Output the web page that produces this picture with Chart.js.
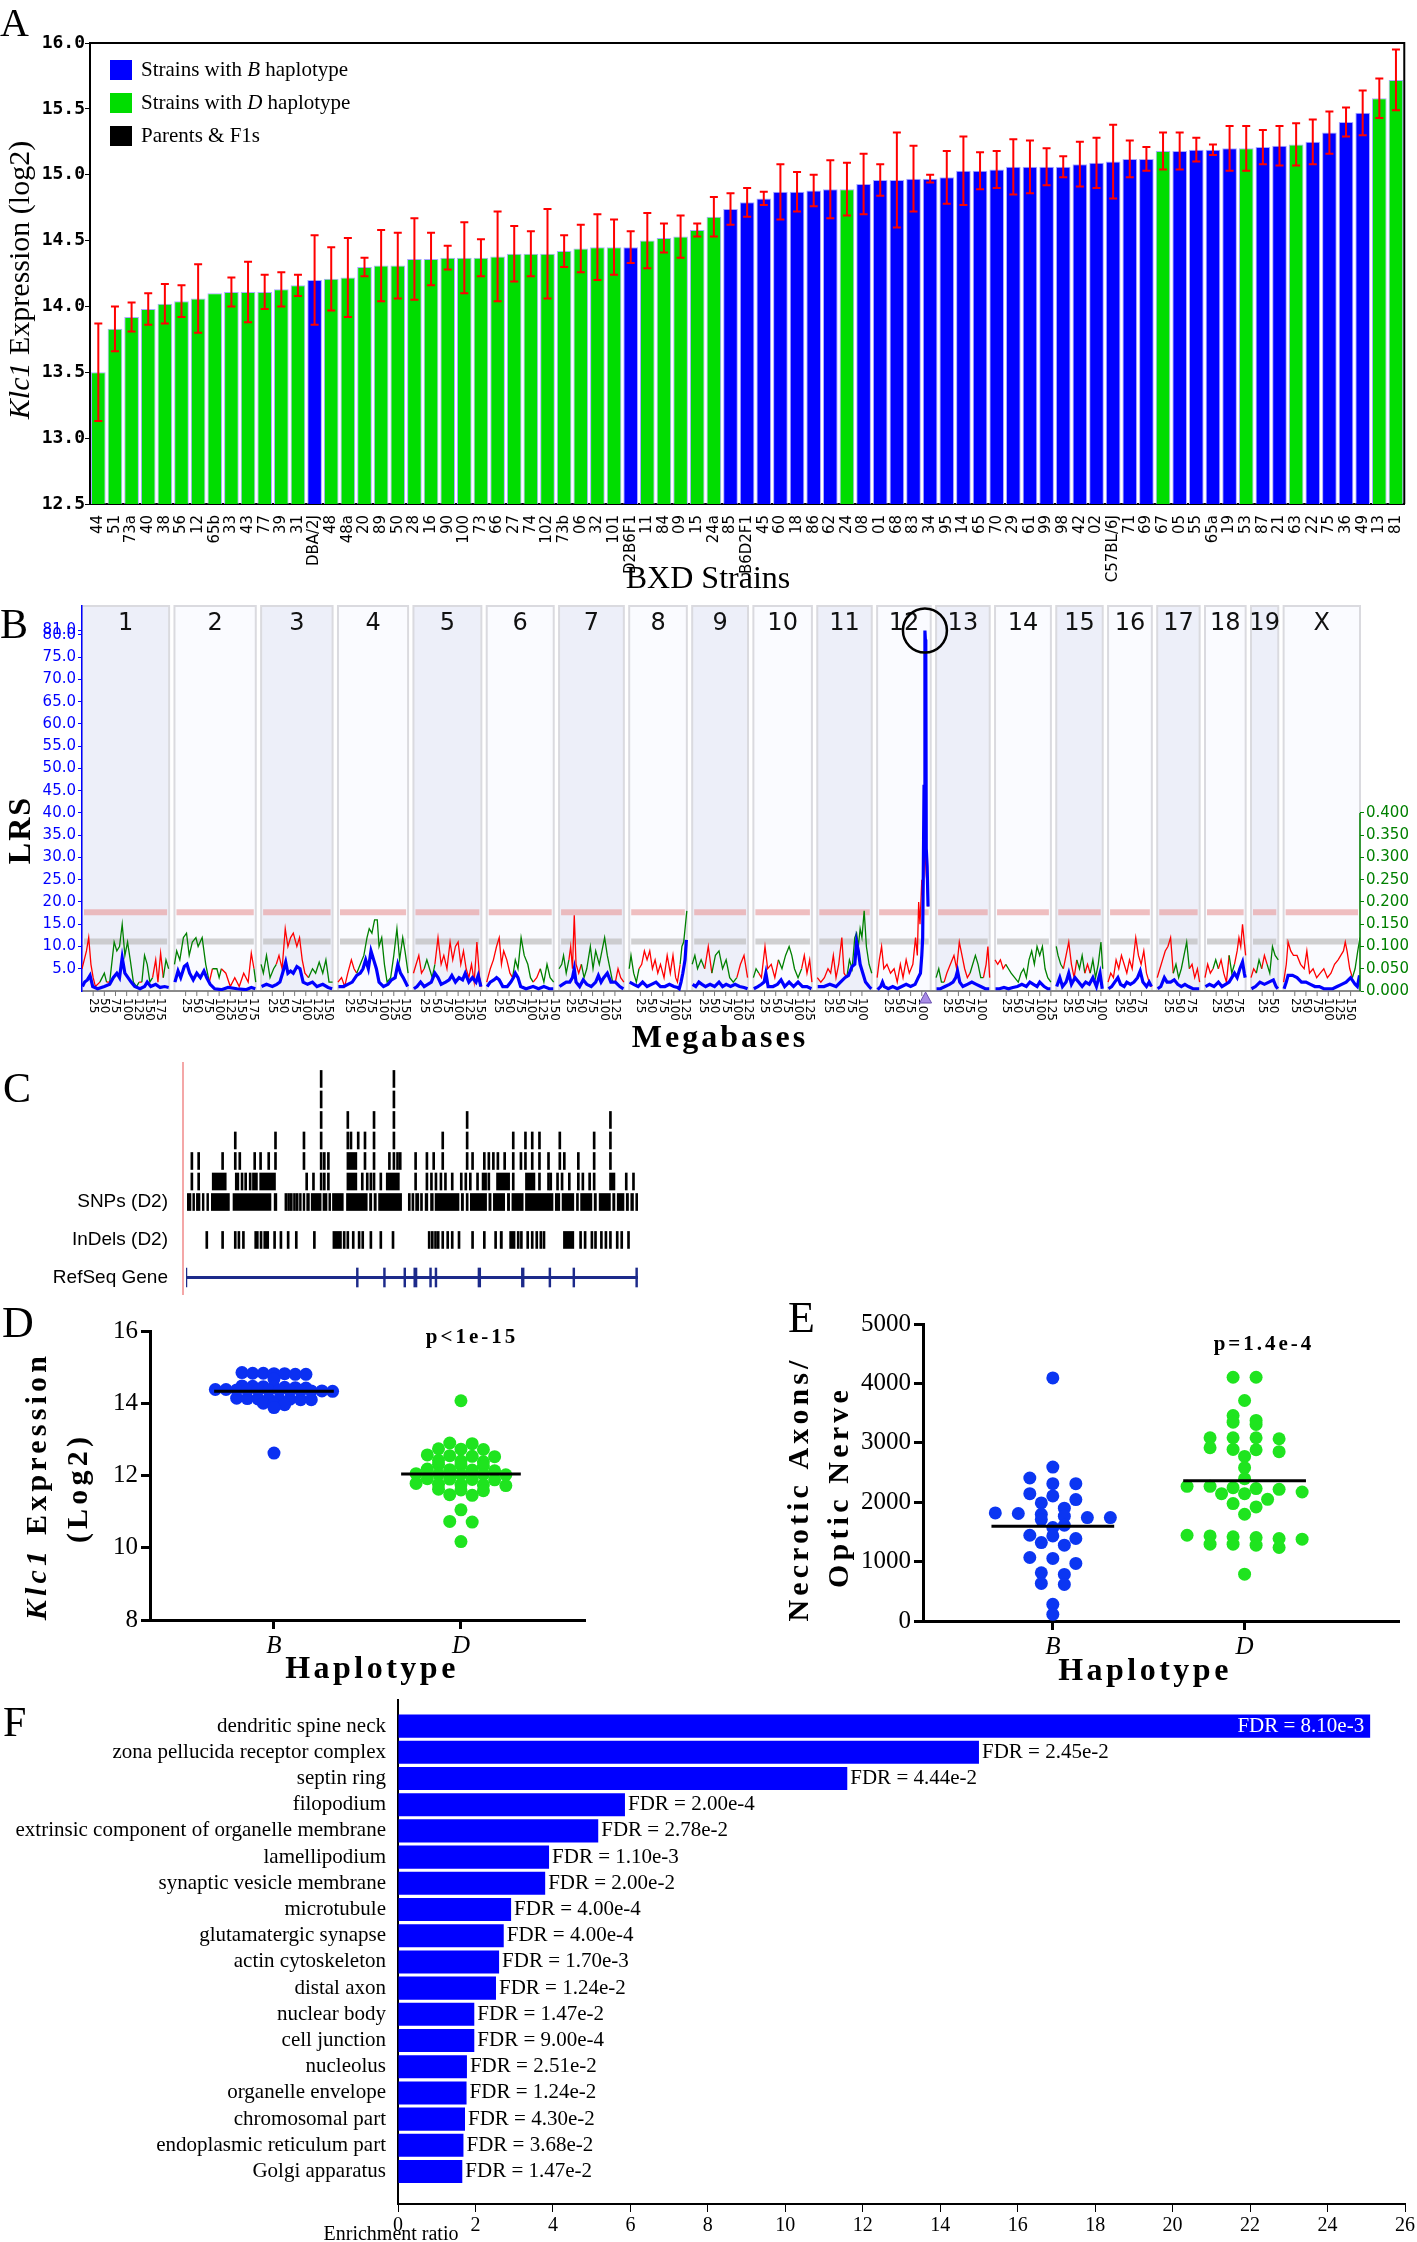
<!DOCTYPE html>
<html>
<head>
<meta charset="utf-8">
<title>Klc1 figure</title>
<script src="https://cdn.jsdelivr.net/npm/chart.js@4.4.1/dist/chart.umd.min.js"></script>
<style>
  body { margin: 0; background: #fff; }
  #fig { position: relative; width: 1417px; height: 2242px; overflow: hidden; background: #fff; }
  #fig canvas { position: absolute; }
</style>
</head>
<body>
<div id="fig">
  <canvas id="panelA" width="1417" height="600" style="left:0;top:0"></canvas>
  <canvas id="panelB" width="1417" height="460" style="left:0;top:595px"></canvas>
  <canvas id="panelC" width="720" height="255" style="left:0;top:1050px"></canvas>
  <canvas id="panelD" width="640" height="400" style="left:0;top:1295px"></canvas>
  <canvas id="panelE" width="657" height="400" style="left:760px;top:1295px"></canvas>
  <canvas id="panelF" width="1417" height="552" style="left:0;top:1690px"></canvas>
</div>
<script>
var BLUE = '#0000ff', GREEN = '#00dd00';
var SERIF = '"Liberation Serif", "Times New Roman", serif';
var SANS = '"DejaVu Sans", Verdana, sans-serif';
var ARIAL = '"Liberation Sans", Arial, sans-serif';

// ---------- A: Klc1 expression per BXD strain
var strains = ['44','51','73a','40','38','56','12','65b','33','43',
  '77','39','31','DBA/2J','48','48a','20','89','50','28',
  '16','90','100','73','66','27','74','102','73b','06',
  '32','101','D2B6F1','11','84','09','15','24a','85','B6D2F1',
  '45','60','18','86','62','24','08','01','68','83',
  '34','95','14','65','70','29','61','99','98','42',
  '02','C57BL/6J','71','69','67','05','55','65a','19','53',
  '87','21','63','22','75','36','49','13','81'];
var expression = [13.50,13.83,13.92,13.98,14.02,14.04,14.06,14.10,14.11,14.11,
  14.11,14.13,14.16,14.20,14.21,14.22,14.30,14.31,14.31,14.36,
  14.36,14.37,14.37,14.37,14.38,14.40,14.40,14.40,14.42,14.44,
  14.45,14.45,14.45,14.50,14.52,14.53,14.58,14.68,14.74,14.79,
  14.82,14.87,14.87,14.88,14.89,14.89,14.93,14.96,14.96,14.97,
  14.97,14.98,15.03,15.03,15.04,15.06,15.06,15.06,15.06,15.08,
  15.09,15.10,15.12,15.12,15.18,15.18,15.19,15.19,15.20,15.20,
  15.21,15.22,15.23,15.25,15.32,15.40,15.47,15.58,15.72];
var expressionSE = [0.37,0.17,0.11,0.12,0.15,0.12,0.26,0,0.11,0.23,
  0.13,0.13,0.08,0.34,0.24,0.30,0.07,0.27,0.25,0.31,
  0.20,0.09,0.27,0.14,0.34,0.21,0.17,0.34,0.12,0.18,
  0.25,0.21,0.12,0.21,0.11,0.16,0.05,0.15,0.12,0.11,
  0.05,0.21,0.15,0.12,0.22,0.20,0.23,0.12,0.36,0.25,
  0.03,0.20,0.26,0.14,0.14,0.21,0.20,0.14,0.08,0.17,
  0.19,0.28,0.14,0.09,0.14,0.14,0.09,0.04,0.17,0.17,
  0.13,0.15,0.16,0.17,0.16,0.11,0.17,0.15,0.23];
var haplotype = ('DDDDDDDDDDDDD' + 'B' + 'DDDDDDDDDDDDDDDDDD' + 'B' + 'DDDDD' + 'BBBBBBB' + 'D' +
  'BBBBBBBBBBBBBBBBBB' + 'D' + 'BBBB' + 'D' + 'BB' + 'D' + 'BBBB' + 'DD').split('');
var legendLabels = [['Strains with ', 'B', ' haplotype'], ['Strains with ', 'D', ' haplotype'], ['Parents & F1s']];
var legendColors = [BLUE, GREEN, '#000'];

// ---------- B: genome scan
var chrNames = ['1','2','3','4','5','6','7','8','9','10','11','12','13','14','15','16','17','18','19','X'];
var chrLength = [195,182,160,157,152,150,145,129,125,131,122,120,120,125,104,98,95,91,61,171];
var lrsByChr = [
  [[1,1],[6,2],[12,2.5],[18,3.5],[24,1],[35,0.5],[50,1],[62,1.5],[70,3],[78,4],[84,3],[90,7.5],[96,4],[103,3],[110,2],[118,1],[130,0.5],[140,1],[146,2],[154,1],[165,1.5],[175,0.8],[185,1],[194,0.8]],
  [[1,2],[8,4.5],[14,3],[22,5.5],[28,6],[34,4],[42,2.5],[50,4],[58,3],[66,4.5],[72,3],[80,1.5],[90,0.5],[105,0.3],[120,0.8],[140,0.5],[160,0.3],[172,0.8],[181,0.5]],
  [[1,1],[12,1.5],[25,1],[35,1.5],[42,2],[48,4],[55,6.5],[60,4],[66,4.5],[72,4],[80,5.5],[87,5],[94,2],[104,1.5],[115,2],[125,1],[138,1.5],[150,0.8],[159,0.5]],
  [[1,1],[12,1],[22,1.5],[32,2],[42,3.5],[50,4],[56,5],[62,7],[68,5],[74,9],[80,7],[86,5],[92,2],[102,1],[112,1.5],[120,2.5],[128,3],[134,6],[140,4],[146,3],[156,1]],
  [[1,0.5],[8,1],[16,2],[24,1],[32,1.5],[40,2],[48,4],[55,3],[62,1.5],[72,2],[80,2.5],[86,3.5],[94,2],[102,3],[110,2.5],[116,4],[124,2],[132,3],[140,2],[145,3.5],[151,1]],
  [[1,1],[8,2],[16,2.5],[22,3],[28,2.5],[36,1],[46,1],[54,2],[60,3],[64,4],[70,3],[76,1],[88,0.5],[104,1],[116,0.5],[128,1],[140,0.5],[149,0.5]],
  [[1,1],[8,1.5],[16,2],[24,2],[30,3],[34,5],[38,2],[46,1],[54,2.5],[62,1.5],[72,1],[82,2],[88,3.5],[94,2],[100,3],[108,4],[116,2],[126,2],[136,1],[144,0.5]],
  [[1,2],[10,1.5],[20,1],[30,2],[40,1],[50,1.5],[60,2],[70,1],[80,1],[90,1.5],[100,1],[108,0.8],[112,0.5],[116,2],[120,4],[125,7],[128,11.5]],
  [[1,1.5],[8,1],[15,2],[22,1.5],[30,1],[40,1.5],[50,1],[60,2],[68,1],[76,1.5],[86,1],[96,1.5],[106,1],[116,0.8],[124,0.5]],
  [[1,0.5],[10,1],[18,1.5],[24,2],[28,4],[33,1],[44,1],[54,1.5],[62,2.5],[70,1],[80,2],[90,1],[100,2],[110,1],[120,1],[130,0.5]],
  [[1,1],[15,1],[28,1.5],[42,1],[52,2],[62,3],[70,3.5],[78,5.5],[84,6],[88,11],[92,9],[96,6],[102,4],[108,2],[116,1],[121,0.5]],
  [[1,0.3],[8,1],[12,2],[16,1],[25,0.5],[35,1],[45,0.5],[55,1],[65,1.5],[75,1],[85,1.5],[92,3],[97,4],[100,8],[102,12],[104,34],[105,46],[107,81],[108,79],[109,77],[110,32],[112,28],[114,19]],
  [[1,0.5],[10,0.5],[20,1],[30,1.5],[38,2],[44,3],[48,4.5],[53,2],[60,1],[70,1.5],[80,2],[90,1.5],[100,1],[110,0.5],[119,0.5]],
  [[1,0.5],[10,0.5],[20,0.8],[30,0.5],[40,0.8],[50,1],[60,1.5],[70,1],[78,2],[86,1.5],[94,1],[100,2],[110,1],[118,0.5],[124,0.5]],
  [[1,1],[8,3],[14,1],[22,2],[28,4],[34,1.5],[42,3],[50,2],[58,1],[66,2],[74,1.5],[82,3],[90,1],[98,4],[103,0.5]],
  [[1,0.5],[8,1],[15,2],[22,3],[28,1.5],[36,1],[42,2],[50,1.5],[58,2],[66,3],[72,4.5],[78,2],[86,1],[92,2],[97,1]],
  [[1,0.5],[8,1],[16,3],[22,2],[30,2],[38,2.5],[46,1.5],[54,1],[62,1.5],[70,1],[80,0.5],[94,0.5]],
  [[1,1],[10,1.5],[20,1],[30,2],[38,1],[46,1.5],[54,2],[60,3],[66,4],[72,3],[78,5],[84,6.5],[88,4],[90,3]],
  [[1,0.5],[10,1],[20,2],[30,1.5],[40,2],[50,2.5],[56,1],[60,0.5]],
  [[1,0.5],[6,2],[10,3.5],[20,3.5],[30,3],[40,2],[50,2],[60,1.5],[70,1],[80,1],[90,0.5],[100,0.5],[110,0.5],[120,1],[130,1.5],[140,2],[150,3],[160,1.5],[165,1],[170,3.5]]
];
// additive effect: positive = green, negative = red
var additiveByChr = [
  [[0,-0.05],[5,-0.07],[10,-0.09],[15,-0.12],[20,-0.06],[25,-0.03],[30,-0.01],[40,0.02],[50,0.04],[55,-0.02],[62,0.02],[72,0.11],[78,0.09],[84,0.1],[90,0.15],[96,0.08],[102,0.11],[108,0.07],[115,0.02],[122,0.01],[128,-0.02],[134,0.02],[140,0.08],[146,0.06],[152,0.02],[158,-0.03],[165,-0.07],[170,-0.02],[176,-0.085],[182,0.03],[188,0.07],[194,0.05]],
  [[0,0.06],[5,0.09],[12,0.07],[20,0.12],[27,0.13],[33,0.08],[40,0.11],[48,0.12],[53,0.1],[62,0.12],[70,0.06],[78,-0.02],[85,0.05],[95,0.05],[100,0.03],[105,-0.05],[115,-0.04],[125,-0.01],[135,-0.03],[145,-0.01],[155,-0.04],[165,-0.02],[172,-0.085],[178,0.05],[182,0.02]],
  [[0,0.06],[5,0.04],[12,0.08],[20,0.03],[28,0.05],[34,-0.06],[40,-0.08],[47,-0.05],[54,-0.14],[60,-0.1],[66,-0.12],[72,-0.13],[80,-0.1],[86,-0.12],[92,-0.07],[98,-0.04],[106,0.03],[115,0.05],[122,0.04],[130,0.065],[138,0.04],[145,0.07],[152,0.02],[160,-0.02]],
  [[0,-0.02],[8,-0.03],[15,-0.01],[22,-0.04],[30,-0.07],[36,-0.05],[42,0.04],[50,0.06],[58,0.08],[65,0.12],[70,0.14],[76,0.13],[82,0.16],[88,0.16],[92,0.1],[98,0.12],[104,0.06],[110,0.02],[118,0.03],[125,0.08],[132,0.14],[138,0.07],[145,0.12],[150,0.09],[157,0.04]],
  [[0,-0.04],[6,-0.06],[12,-0.08],[18,-0.04],[24,0.05],[30,0.07],[36,0.05],[42,0.03],[48,-0.06],[55,-0.12],[62,-0.06],[68,-0.08],[75,-0.05],[82,-0.11],[88,-0.07],[94,-0.1],[100,-0.11],[106,-0.06],[112,-0.09],[118,-0.05],[124,-0.03],[130,-0.06],[136,-0.02],[142,-0.11],[148,-0.03],[152,-0.01]],
  [[0,-0.02],[8,-0.05],[15,-0.07],[22,-0.1],[28,-0.12],[33,-0.06],[38,-0.09],[45,-0.07],[52,-0.04],[58,0.03],[64,0.07],[70,0.05],[77,0.12],[84,0.08],[92,0.06],[98,0.03],[104,-0.02],[112,-0.03],[120,0.05],[128,0.02],[135,0.06],[142,0.03],[150,0.02]],
  [[0,0.05],[6,0.06],[10,0.08],[16,0.04],[22,-0.07],[26,-0.1],[30,-0.05],[34,-0.17],[38,-0.06],[44,-0.04],[50,0.06],[56,0.03],[62,0.05],[70,0.1],[76,0.05],[82,0.09],[90,0.06],[96,0.09],[102,0.12],[108,0.08],[114,0.05],[120,0.02],[126,-0.02],[132,-0.05],[138,-0.03],[145,-0.02]],
  [[0,0.05],[4,0.08],[10,0.04],[16,0.02],[22,-0.05],[28,-0.06],[34,-0.09],[40,-0.07],[46,-0.09],[52,-0.05],[58,-0.07],[64,-0.04],[70,-0.06],[78,-0.03],[85,-0.08],[92,-0.04],[98,-0.08],[104,-0.03],[108,-0.02],[114,0.06],[118,0.1],[122,0.11],[126,0.15],[129,0.18]],
  [[0,0.06],[6,0.08],[12,0.05],[20,0.07],[28,-0.05],[36,-0.1],[44,0.04],[52,0.08],[60,0.09],[68,0.05],[76,0.07],[84,0.03],[92,0.02],[100,-0.03],[108,-0.06],[116,-0.08],[124,-0.03]],
  [[0,0.03],[6,0.05],[12,-0.04],[18,-0.03],[26,-0.1],[32,-0.05],[40,-0.06],[48,-0.03],[56,0.07],[64,0.05],[72,0.08],[80,0.1],[86,0.08],[92,0.05],[100,0.03],[108,-0.05],[114,-0.08],[120,-0.04],[126,-0.07],[131,-0.02]],
  [[0,-0.03],[8,-0.02],[16,-0.03],[24,-0.05],[30,-0.04],[36,-0.08],[42,-0.03],[48,-0.06],[55,-0.12],[60,-0.04],[66,0.03],[72,0.07],[78,0.05],[84,0.12],[88,0.13],[92,0.1],[96,0.14],[100,0.12],[105,0.18],[110,0.1],[116,0.06],[122,0.04]],
  [[0,-0.03],[5,-0.07],[10,-0.1],[15,-0.05],[22,-0.06],[30,-0.04],[38,-0.05],[45,-0.02],[52,-0.06],[58,-0.03],[65,-0.07],[72,-0.04],[80,-0.06],[86,-0.12],[90,-0.08],[93,-0.2],[96,-0.15],[100,-0.25],[103,-0.19],[105,-0.3],[107,-0.39],[108,-0.3],[110,-0.26],[112,-0.24],[114,-0.19]],
  [[0,0.03],[6,0.05],[12,0.02],[18,-0.02],[24,-0.04],[32,-0.06],[40,-0.08],[46,-0.05],[52,-0.11],[58,-0.08],[64,-0.05],[70,-0.03],[76,0.04],[82,0.06],[88,0.08],[94,0.06],[100,0.03],[106,-0.03],[112,-0.06],[116,-0.1],[120,-0.03]],
  [[0,-0.07],[6,-0.06],[12,-0.07],[18,-0.05],[24,0.06],[30,0.05],[36,0.04],[44,0.03],[52,0.02],[58,0.04],[64,0.05],[70,0.03],[76,0.07],[82,0.09],[88,0.06],[94,0.1],[100,0.08],[106,0.1],[112,0.05],[118,0.03],[125,0.02]],
  [[0,0.1],[4,0.08],[10,0.06],[16,-0.05],[22,-0.08],[28,-0.11],[34,-0.06],[40,-0.03],[46,0.07],[52,0.05],[58,0.08],[64,-0.04],[70,-0.06],[76,0.04],[82,0.07],[88,0.03],[94,0.06],[100,0.11],[104,0.05]],
  [[0,-0.02],[6,-0.04],[12,-0.03],[18,-0.07],[24,-0.05],[30,-0.08],[36,-0.06],[42,-0.04],[48,-0.07],[54,-0.05],[62,-0.12],[68,-0.08],[74,-0.06],[80,-0.09],[86,-0.04],[92,-0.02],[98,-0.01]],
  [[0,-0.03],[6,-0.05],[12,-0.07],[18,-0.09],[24,-0.1],[30,-0.12],[36,0.04],[42,0.06],[48,0.03],[54,0.05],[60,0.08],[66,0.11],[72,-0.05],[78,-0.06],[84,-0.03],[90,-0.05],[95,-0.02]],
  [[0,-0.03],[6,-0.06],[12,-0.04],[18,0.05],[24,0.07],[30,-0.05],[36,-0.07],[42,-0.04],[48,-0.02],[54,0.08],[60,0.04],[66,-0.06],[72,-0.09],[76,-0.12],[80,-0.1],[84,-0.15],[88,-0.11],[91,-0.08]],
  [[0,-0.03],[6,-0.05],[12,0.04],[18,0.07],[24,-0.05],[30,-0.08],[36,0.06],[42,0.04],[48,0.1],[54,0.08],[61,0.07]],
  [[0,-0.02],[6,-0.06],[10,-0.11],[16,-0.09],[22,-0.08],[30,-0.08],[38,-0.06],[46,-0.05],[52,-0.09],[58,-0.04],[66,-0.05],[74,-0.03],[82,-0.04],[90,-0.05],[98,-0.03],[106,-0.04],[114,-0.06],[122,-0.07],[128,-0.08],[134,-0.09],[138,-0.11],[142,-0.09],[148,-0.05],[154,0.03],[160,0.05],[166,0.09],[171,0.12]]
];
var lrsTicks = [5,10,15,20,25,30,35,40,45,50,55,60,65,70,75,80,81];
var additiveTicks = [0,0.05,0.1,0.15,0.2,0.25,0.3,0.35,0.4];
var suggestiveLRS = 11.1, significantLRS = 17.7;
var geneChr = 11, geneMb = 108.5;

// ---------- C: variant tracks (relative position 0-1000 across the Klc1 locus)
var snpRows = [
  [299, 460],
  [299, 460],
  [299, 358, 416, 460, 622, 939],
  [109, 198, 261, 299, 358, 365, 381, 396, 416, 460, 568, 622, 724, 751, 766, 782, 827, 903, 939],
  [13, 28, 81, 109, 119, 152, 165, 183, 198, 261, 299, 306, 315, [356, 378], 396, 416, 450, 460, 468, 474, 508, 533, 548, 568, 622, 634, 660, 670, 680, 690, 705, 724, 741, 751, 766, 782, 802, 827, 837, 868, 903, 939],
  [13, 28, [58, 89], [109, 117], 124, 132, 142, [147, 158], [163, 198], 267, 282, 299, 306, 315, [356, 378], 390, 401, 409, 416, 431, [443, 472], 508, 533, 543, 553, 564, 574, 589, 609, 619, 629, 645, [655, 665], 670, [687, 716], 724, [751, 772], 782, 802, 807, 822, 832, 848, 868, 878, 893, 903, [937, 949], 974, 990],
  [[3, 11], [15, 19], [23, 31], [36, 40], [46, 50], [56, 96], [104, 188], [195, 201], 221, 227, 233, 240, 246, [251, 255], [259, 263], [267, 273], [277, 299], [303, 312], [316, 320], [324, 348], [355, 401], [406, 411], [416, 421], [426, 477], 494, 502, [508, 515], 521, [529, 535], [541, 547], [551, 604], [609, 614], 622, [629, 665], [670, 675], [680, 705], [711, 716], [721, 746], [751, 812], [817, 827], [832, 858], 866, [873, 898], [903, 908], [914, 939], [944, 949], [954, 969], [974, 979], [984, 990], [995, 1000]]
];
var indelMarks = [46, 81, 109, 117, 127, [152, 160], 166, [172, 183], 196, 210, 226, 244, 284, [325, 344], 350, 358, 370, 383, 391, 409, 431, 458, 538, 545, 552, 558, 568, 579, 589, 604, 634, 660, 685, [695, 700], [716, 728], 735, 742, 756, 766, 776, 785, 792, [835, 858], 873, 883, 898, 906, 919, 929, 939, 954, 964, 979];
var geneSpan = [0, 1000];
var geneExons = [0, 379, 439, 484, [504, 511], 541, 553, [646, 652], [742, 748], 805, 858, 997];
// track rows: SNP stack rows at 9..3, InDels and RefSeq below
var snpBaseRow = 3, indelRow = 1.15, geneRow = -0.68;
var trackLabels = [[snpBaseRow, 'SNPs (D2)'], [indelRow, 'InDels (D2)'], [geneRow, 'RefSeq Gene']];

// ---------- D / E: by haplotype at the Klc1 locus
var haplotypes = ['B', 'D'];
var klc1B = [14.85,14.83,14.83,14.82,14.82,14.80,14.80, 14.67,
  14.48,14.47,14.46,14.45,14.44,14.43,14.42,
  14.38,14.38,14.37,14.37,14.36,14.36,14.36,14.35,14.35,14.34,14.34,14.33,
  14.14,14.13,14.12,14.12,14.11,14.11,14.10,14.10, 14.00,13.98,13.96, 13.88, 12.62];
var klc1D = [14.07, 12.90,12.88, 12.74,12.73,12.72, 12.57,12.55,12.53,12.52, 12.42,12.40,12.38,
  12.31,12.29,12.27, 12.18,12.16,12.15,12.13, 12.05,12.04,12.03,12.03,12.02,
  11.91,11.90,11.89,11.88, 11.78,11.76,11.75,11.74,11.72, 11.62,11.60,11.58,
  11.47,11.45, 11.05, 10.73,10.71, 10.17];
var axonsB = [4093, 2592, 2407, 2312,2312, 2144,2105, 2044,1988, 1900, 1820,1810,1797,1764,
  1741,1741,1708, 1612,1573, 1444,1433,1389, 1321,1277, 1069,1053, 969, 812,784, 633,616, 280, 112];
var axonsD = [4104,4104, 3712, 3460, 3376,3348,3310, 3085,3085,3085,3068, 2917,2889,2883,2850,
  2771, 2581, 2396, 2268,2268,2245,2229,2217, 2172,2144,2144, 2049,1977, 1921, 1797,
  1444,1433,1417,1405,1389,1377, 1293,1293,1277,1237, 789];

// ---------- F: GO cellular component enrichment
var goTerms = ['dendritic spine neck','zona pellucida receptor complex','septin ring','filopodium',
  'extrinsic component of organelle membrane','lamellipodium','synaptic vesicle membrane','microtubule',
  'glutamatergic synapse','actin cytoskeleton','distal axon','nuclear body','cell junction','nucleolus',
  'organelle envelope','chromosomal part','endoplasmic reticulum part','Golgi apparatus'];
var enrichmentRatio = [25.1,15.0,11.6,5.86,5.17,3.90,3.80,2.92,2.73,2.61,2.53,1.97,1.97,1.78,1.77,1.73,1.69,1.66];
var fdrValues = ['8.10e-3','2.45e-2','4.44e-2','2.00e-4','2.78e-2','1.10e-3','2.00e-2','4.00e-4','4.00e-4',
  '1.70e-3','1.24e-2','1.47e-2','9.00e-4','2.51e-2','1.24e-2','4.30e-2','3.68e-2','1.47e-2'];

Chart.defaults.font.family = SERIF;
Chart.defaults.color = '#000';

function drawText(ctx, str, x, y, font, o) {
  o = o || {};
  ctx.save();
  ctx.translate(x, y);
  if (o.rotate) ctx.rotate(o.rotate);
  ctx.font = font;
  ctx.fillStyle = o.color || '#000';
  ctx.textAlign = o.align || 'center';
  ctx.textBaseline = o.baseline || 'middle';
  ctx.letterSpacing = o.spacing || '0px';
  ctx.fillText(str, 0, 0);
  ctx.restore();
}

// parts: [[text, font], ...] drawn one after another
function drawRich(ctx, parts, x, y, o) {
  o = o || {};
  ctx.save();
  ctx.translate(x, y);
  if (o.rotate) ctx.rotate(o.rotate);
  ctx.fillStyle = o.color || '#000';
  ctx.textBaseline = 'middle';
  ctx.textAlign = 'left';
  ctx.letterSpacing = o.spacing || '0px';
  var total = 0;
  parts.forEach(function (p) { ctx.font = p[1]; total += ctx.measureText(p[0]).width; });
  var cx = o.align === 'left' ? 0 : -total / 2;
  parts.forEach(function (p) { ctx.font = p[1]; ctx.fillText(p[0], cx, 0); cx += ctx.measureText(p[0]).width; });
  ctx.restore();
}

var noLegend = { legend: { display: false }, tooltip: { enabled: false } };

// ================= Panel A
var panelAExtras = {
  id: 'panelAExtras',
  afterDatasetsDraw: function (chart) {
    var ctx = chart.ctx, xs = chart.scales.x, ys = chart.scales.y;
    ctx.save();
    ctx.strokeStyle = '#ff0000';
    ctx.lineWidth = 2;
    expression.forEach(function (v, i) {
      var se = expressionSE[i];
      if (!se) return;
      var px = xs.getPixelForValue(i), t = ys.getPixelForValue(v + se), b = ys.getPixelForValue(v - se);
      ctx.beginPath();
      ctx.moveTo(px, t); ctx.lineTo(px, b);
      ctx.moveTo(px - 4, t); ctx.lineTo(px + 4, t);
      ctx.moveTo(px - 4, b); ctx.lineTo(px + 4, b);
      ctx.stroke();
    });
    ctx.restore();
  },
  afterDraw: function (chart) {
    var ctx = chart.ctx, a = chart.chartArea;
    ctx.save();
    ctx.strokeStyle = '#000';
    ctx.lineWidth = 2;
    ctx.beginPath();
    ctx.moveTo(a.left, a.top); ctx.lineTo(a.right, a.top); ctx.lineTo(a.right, a.bottom);
    ctx.stroke();
    legendLabels.forEach(function (parts, i) {
      var y = 70 + i * 33;
      ctx.fillStyle = legendColors[i];
      ctx.fillRect(110, y - 10, 22, 20);
      drawRich(ctx, parts.map(function (s, k) { return [s, (k === 1 ? 'italic ' : '') + '21px ' + SERIF]; }), 141, y, { align: 'left' });
    });
    ctx.restore();
    drawText(ctx, 'A', 0, 36, '40px ' + SERIF, { align: 'left', baseline: 'alphabetic' });
    drawRich(ctx, [['Klc1', 'italic 30px ' + SERIF], [' Expression (log2)', '30px ' + SERIF]], 21, 280, { rotate: -Math.PI / 2 });
    drawText(ctx, 'BXD Strains', 708, 580, '32px ' + SERIF);
  }
};

new Chart(document.getElementById('panelA'), {
  type: 'bar',
  data: {
    labels: strains,
    datasets: [{
      data: expression,
      backgroundColor: haplotype.map(function (h) { return h === 'B' ? BLUE : GREEN; }),
      borderColor: '#a9a9ff',
      borderWidth: 1,
      barPercentage: 0.88,
      categoryPercentage: 1
    }]
  },
  options: {
    responsive: false,
    animation: false,
    layout: { padding: { top: 43, right: 7 } },
    plugins: noLegend,
    scales: {
      x: {
        grid: { display: false },
        border: { color: '#000', width: 2 },
        ticks: { autoSkip: false, minRotation: 90, maxRotation: 90, padding: 3, color: '#000', font: { family: SANS, size: 15 } },
        afterFit: function (s) { s.height = 96; }
      },
      y: {
        min: 12.5, max: 16,
        ticks: { stepSize: 0.5, padding: 0, color: '#000', font: { family: '"DejaVu Sans Mono", monospace', size: 18, weight: 'bold' },
          callback: function (v) { return v.toFixed(1); } },
        grid: { drawOnChartArea: false, tickLength: 5, color: '#000' },
        border: { color: '#000', width: 2 },
        afterFit: function (s) { s.width = 90; }
      }
    }
  },
  plugins: [panelAExtras]
});

// ================= Panel B
var CHR_GAP = 12;
var chrOffset = [], genomeLen = 0;
chrLength.forEach(function (len, i) {
  chrOffset.push(genomeLen);
  genomeLen += len + (i < chrLength.length - 1 ? CHR_GAP : 0);
});
function genomeSeries(byChr, signed) {
  var out = [];
  byChr.forEach(function (pts, c) {
    pts.forEach(function (p) {
      out.push({ x: chrOffset[c] + p[0], y: signed ? Math.abs(p[1]) : p[1], s: p[1] < 0 ? -1 : 1 });
    });
    out.push({ x: chrOffset[c] + chrLength[c] + CHR_GAP / 2, y: null });
  });
  return out;
}
var lrsPoints = genomeSeries(lrsByChr, false);
var additivePoints = genomeSeries(additiveByChr, true);

var panelBExtras = {
  id: 'panelBExtras',
  beforeDraw: function (chart) {
    var ctx = chart.ctx, xs = chart.scales.x, ys = chart.scales.y, a = chart.chartArea;
    ctx.save();
    chrLength.forEach(function (len, c) {
      var x0 = xs.getPixelForValue(chrOffset[c]), x1 = xs.getPixelForValue(chrOffset[c] + len);
      ctx.fillStyle = c % 2 === 0 ? '#edeff9' : '#fafbff';
      ctx.fillRect(x0, a.top, x1 - x0, a.bottom - a.top);
      ctx.strokeStyle = '#dadadf';
      ctx.lineWidth = 2;
      ctx.strokeRect(x0, a.top, x1 - x0, a.bottom - a.top);
      [[significantLRS, 'rgba(232,150,150,0.6)'], [suggestiveLRS, 'rgba(190,190,190,0.7)']].forEach(function (t) {
        var y = ys.getPixelForValue(t[0]);
        ctx.strokeStyle = t[1];
        ctx.lineWidth = 6;
        ctx.beginPath(); ctx.moveTo(x0 + 2, y); ctx.lineTo(x1 - 2, y); ctx.stroke();
      });
      drawText(ctx, chrNames[c], (x0 + x1) / 2, a.top + 18, '24px ' + SANS, { color: '#111' });
    });
    ctx.restore();
  },
  afterDatasetsDraw: function (chart) {
    var ctx = chart.ctx, xs = chart.scales.x, ys = chart.scales.y;
    var peak = lrsByChr[geneChr].reduce(function (m, p) { return p[1] > m[1] ? p : m; });
    ctx.save();
    ctx.strokeStyle = '#000';
    ctx.lineWidth = 2.5;
    ctx.beginPath();
    ctx.arc(xs.getPixelForValue(chrOffset[geneChr] + peak[0]), ys.getPixelForValue(peak[1]), 22, 0, Math.PI * 2);
    ctx.stroke();
    ctx.restore();
  },
  afterDraw: function (chart) {
    var ctx = chart.ctx, xs = chart.scales.x, y2 = chart.scales.y2, a = chart.chartArea;
    ctx.save();
    ctx.strokeStyle = '#008000';
    ctx.lineWidth = 1.5;
    ctx.beginPath(); ctx.moveTo(a.right, y2.getPixelForValue(0)); ctx.lineTo(a.right, y2.getPixelForValue(0.4)); ctx.stroke();
    ctx.strokeStyle = '#777';
    ctx.lineWidth = 1;
    chrLength.forEach(function (len, c) {
      for (var mb = 25; mb <= len; mb += 25) {
        var px = xs.getPixelForValue(chrOffset[c] + mb);
        ctx.beginPath(); ctx.moveTo(px, a.bottom); ctx.lineTo(px, a.bottom + 5); ctx.stroke();
        drawText(ctx, String(mb), px, a.bottom + 7, '12px ' + SANS, { align: 'left', rotate: Math.PI / 2 });
      }
    });
    var gx = xs.getPixelForValue(chrOffset[geneChr] + geneMb);
    ctx.fillStyle = '#a88ce6';
    ctx.strokeStyle = '#6a50b0';
    ctx.beginPath(); ctx.moveTo(gx, a.bottom + 1); ctx.lineTo(gx - 6, a.bottom + 12); ctx.lineTo(gx + 6, a.bottom + 12); ctx.closePath();
    ctx.fill(); ctx.stroke();
    ctx.restore();
    drawText(ctx, 'B', 0, 43, '42px ' + SERIF, { align: 'left', baseline: 'alphabetic' });
    drawText(ctx, 'LRS', 22, 235, 'bold 32px ' + SERIF, { rotate: -Math.PI / 2, spacing: '2px' });
    drawText(ctx, 'Megabases', 720, 444, 'bold 32px ' + SERIF, { spacing: '3px' });
  }
};

new Chart(document.getElementById('panelB'), {
  type: 'line',
  data: {
    datasets: [
      { data: lrsPoints, yAxisID: 'y', borderColor: BLUE, borderWidth: 3.2, pointRadius: 0, spanGaps: false, tension: 0 },
      { data: additivePoints, yAxisID: 'y2', borderColor: '#ff0000', borderWidth: 1.3, pointRadius: 0, spanGaps: false, tension: 0,
        segment: { borderColor: function (c) { return additivePoints[c.p0DataIndex].s < 0 ? '#ff0000' : '#008000'; } } }
    ]
  },
  options: {
    responsive: false,
    animation: false,
    layout: { padding: { top: 10 } },
    plugins: noLegend,
    scales: {
      x: {
        type: 'linear', min: 0, max: genomeLen,
        ticks: { display: false },
        grid: { display: false },
        border: { color: '#8a8a8a', width: 2 },
        afterFit: function (s) { s.height = 64; }
      },
      y: {
        position: 'left', min: 0, max: 86.5,
        afterBuildTicks: function (s) { s.ticks = lrsTicks.map(function (v) { return { value: v }; }); },
        ticks: { autoSkip: false, padding: 2, color: '#0000ff', font: { family: SANS, size: 15 },
          callback: function (v) { return v.toFixed(1); } },
        grid: { drawOnChartArea: false, tickLength: 4, color: '#0000ff' },
        border: { color: '#0000ff', width: 1.5 },
        afterFit: function (s) { s.width = 82; }
      },
      y2: {
        position: 'right', min: 0, max: 0.865,
        afterBuildTicks: function (s) { s.ticks = additiveTicks.map(function (v) { return { value: v }; }); },
        ticks: { autoSkip: false, padding: 2, color: '#008000', font: { family: SANS, size: 15 },
          callback: function (v) { return v.toFixed(3); } },
        grid: { drawOnChartArea: false, tickLength: 4, color: '#008000' },
        border: { display: false },
        afterFit: function (s) { s.width = 57; }
      }
    }
  },
  plugins: [panelBExtras]
});

// ================= Panel C
function markRange(m, half) { return Array.isArray(m) ? m : [m - half, m + half]; }
var snpBars = [];
snpRows.forEach(function (row, r) {
  var rowY = snpBaseRow + (snpRows.length - 1 - r);
  row.forEach(function (m) { snpBars.push({ x: markRange(m, 2.2), y: rowY }); });
});
var indelBars = indelMarks.map(function (m) { return { x: markRange(m, 2.2), y: indelRow }; });
var exonBars = geneExons.map(function (m) { return { x: markRange(m, 2), y: geneRow }; });

var panelCExtras = {
  id: 'panelCExtras',
  afterDraw: function (chart) {
    var ctx = chart.ctx, a = chart.chartArea;
    ctx.save();
    ctx.strokeStyle = '#f08a8a';
    ctx.lineWidth = 1.5;
    ctx.beginPath(); ctx.moveTo(a.left - 3, 12); ctx.lineTo(a.left - 3, 245); ctx.stroke();
    ctx.restore();
    drawText(ctx, 'C', 3, 52, '42px ' + SERIF, { align: 'left', baseline: 'alphabetic' });
  }
};

new Chart(document.getElementById('panelC'), {
  type: 'bar',
  data: {
    datasets: [
      { data: snpBars, backgroundColor: '#000', barThickness: 17, grouped: false },
      { data: indelBars, backgroundColor: '#000', barThickness: 17, grouped: false },
      { data: [{ x: geneSpan, y: geneRow }], backgroundColor: '#1c2a8a', barThickness: 2.5, grouped: false },
      { data: exonBars, backgroundColor: '#1c2a8a', barThickness: 19, grouped: false }
    ]
  },
  options: {
    indexAxis: 'y',
    responsive: false,
    animation: false,
    layout: { padding: { top: 7, right: 82, bottom: 7 } },
    plugins: noLegend,
    scales: {
      x: { type: 'linear', min: 0, max: 1000, display: false },
      y: {
        type: 'linear', min: -1.68, max: 10.07, offset: false,
        afterBuildTicks: function (s) { s.ticks = trackLabels.map(function (t) { return { value: t[0] }; }); },
        ticks: { autoSkip: false, padding: 10, color: '#000', font: { family: ARIAL, size: 19 },
          callback: function (v, i) { return trackLabels[i][1]; } },
        grid: { display: false },
        border: { display: false },
        afterFit: function (s) { s.width = 186; s.paddingTop = 0; s.paddingBottom = 0; }
      }
    }
  },
  plugins: [panelCExtras]
});

// ================= Panels D and E
// row-wise dot arrangement: values within `bin` of a row's first value share that row
function swarm(values, center, bin, step) {
  var sorted = values.slice().sort(function (a, b) { return b - a; });
  var pts = [], row = [];
  function flush() {
    var n = row.length;
    row.forEach(function (v, i) { pts.push({ x: center + (i - (n - 1) / 2) * step, y: v }); });
    row = [];
  }
  sorted.forEach(function (v) {
    if (row.length && row[0] - v > bin) flush();
    row.push(v);
  });
  flush();
  return pts;
}
function mean(arr) { return arr.reduce(function (s, v) { return s + v; }, 0) / arr.length; }

function dotExtras(groups, decorate) {
  return {
    id: 'dotExtras',
    afterDatasetsDraw: function (chart) {
      var ctx = chart.ctx, xs = chart.scales.x, ys = chart.scales.y;
      ctx.save();
      ctx.strokeStyle = '#000';
      ctx.lineWidth = 3;
      groups.forEach(function (g, i) {
        var y = ys.getPixelForValue(mean(g));
        ctx.beginPath();
        ctx.moveTo(xs.getPixelForValue(i + 1 - 0.32), y);
        ctx.lineTo(xs.getPixelForValue(i + 1 + 0.32), y);
        ctx.stroke();
      });
      ctx.restore();
    },
    afterDraw: function (chart) { decorate(chart.ctx, chart); }
  };
}

function dotOptions(o) {
  return {
    responsive: false,
    animation: false,
    layout: { padding: { top: o.top, right: o.right } },
    plugins: noLegend,
    scales: {
      x: {
        type: 'linear', min: o.xMin, max: o.xMax,
        afterBuildTicks: function (s) { s.ticks = [{ value: 1 }, { value: 2 }]; },
        ticks: { padding: 2, color: '#000', font: { family: SERIF, size: 25, style: 'italic' },
          callback: function (v) { return haplotypes[v - 1]; } },
        grid: { drawOnChartArea: false, tickLength: 9, lineWidth: 3, color: '#000' },
        border: { width: 3, color: '#000' },
        afterFit: function (s) { s.height = o.xHeight; }
      },
      y: {
        min: o.yMin, max: o.yMax,
        ticks: { stepSize: o.step, padding: 3, color: '#000', font: { family: SERIF, size: 25 },
          callback: function (v) { return String(v); } },
        grid: { drawOnChartArea: false, tickLength: 9, lineWidth: 3, color: '#000' },
        border: { width: 3, color: '#000' },
        afterFit: function (s) { s.width = o.yWidth; }
      }
    }
  };
}

new Chart(document.getElementById('panelD'), {
  type: 'scatter',
  data: {
    datasets: [
      { data: swarm(klc1B, 1, 0.07, 0.057), backgroundColor: '#0b30f2', pointRadius: 6.5, borderWidth: 0 },
      { data: swarm(klc1D, 2, 0.1, 0.12), backgroundColor: '#1fe41f', pointRadius: 6.5, borderWidth: 0 }
    ]
  },
  options: dotOptions({ top: 36, right: 56, xMin: 0.337, xMax: 2.658, yMin: 8, yMax: 16, step: 2, yWidth: 150, xHeight: 75 }),
  plugins: [dotExtras([klc1B, klc1D], function (ctx) {
    drawText(ctx, 'D', 2, 42, '44px ' + SERIF, { align: 'left', baseline: 'alphabetic' });
    drawText(ctx, 'p<1e-15', 472, 43, 'bold 21px ' + SERIF, { spacing: '3px' });
    drawText(ctx, 'Haplotype', 372, 375, 'bold 32px ' + SERIF, { spacing: '3.5px' });
    drawRich(ctx, [['Klc1', 'bold italic 30px ' + SERIF], [' Expression', 'bold 30px ' + SERIF]], 38, 191, { rotate: -Math.PI / 2, spacing: '4.2px' });
    drawText(ctx, '(Log2)', 79, 193, 'bold 30px ' + SERIF, { rotate: -Math.PI / 2, spacing: '4.2px' });
  })]
});

new Chart(document.getElementById('panelE'), {
  type: 'scatter',
  data: {
    datasets: [
      { data: swarm(axonsB, 1, 110, 0.12), backgroundColor: '#0b36f2', pointRadius: 6.5, borderWidth: 0 },
      { data: swarm(axonsD, 2, 110, 0.12), backgroundColor: '#1fe41f', pointRadius: 6.5, borderWidth: 0 }
    ]
  },
  options: dotOptions({ top: 29, right: 19, xMin: 0.323, xMax: 2.80, yMin: 0, yMax: 5000, step: 1000, yWidth: 163, xHeight: 74 }),
  plugins: [dotExtras([axonsB, axonsD], function (ctx) {
    drawText(ctx, 'E', 28, 37, '44px ' + SERIF, { align: 'left', baseline: 'alphabetic' });
    drawText(ctx, 'p=1.4e-4', 504, 50, 'bold 21px ' + SERIF, { spacing: '3px' });
    drawText(ctx, 'Haplotype', 385, 377, 'bold 32px ' + SERIF, { spacing: '3.5px' });
    drawText(ctx, 'Necrotic Axons/', 40, 194, 'bold 30px ' + SERIF, { rotate: -Math.PI / 2, spacing: '4.1px' });
    drawText(ctx, 'Optic Nerve', 80, 192, 'bold 30px ' + SERIF, { rotate: -Math.PI / 2, spacing: '4.2px' });
  })]
});

// ================= Panel F
var panelFExtras = {
  id: 'panelFExtras',
  afterDatasetsDraw: function (chart) {
    var ctx = chart.ctx, xs = chart.scales.x, ys = chart.scales.y;
    enrichmentRatio.forEach(function (v, i) {
      var x = xs.getPixelForValue(v), y = ys.getPixelForValue(i);
      if (i === 0) drawText(ctx, 'FDR = ' + fdrValues[i], x - 6, y, '21px ' + SERIF, { align: 'right', color: '#fff' });
      else drawText(ctx, 'FDR = ' + fdrValues[i], x + 3, y, '21px ' + SERIF, { align: 'left' });
    });
  },
  afterDraw: function (chart) {
    var ctx = chart.ctx, a = chart.chartArea;
    ctx.save();
    ctx.strokeStyle = '#000';
    ctx.lineWidth = 2;
    ctx.beginPath(); ctx.moveTo(a.left, 9); ctx.lineTo(a.left, a.top); ctx.stroke();
    ctx.restore();
    drawText(ctx, 'F', 3, 46, '42px ' + SERIF, { align: 'left', baseline: 'alphabetic' });
    drawText(ctx, 'Enrichment ratio', 391, 545, '20px ' + SERIF);
  }
};

new Chart(document.getElementById('panelF'), {
  type: 'bar',
  data: {
    datasets: [{
      data: enrichmentRatio.map(function (v, i) { return { x: v, y: i }; }),
      backgroundColor: BLUE,
      barPercentage: 0.88,
      categoryPercentage: 1
    }]
  },
  options: {
    indexAxis: 'y',
    responsive: false,
    animation: false,
    layout: { padding: { top: 23, right: 7 } },
    plugins: noLegend,
    scales: {
      x: {
        type: 'linear', min: 0, max: 26,
        ticks: { stepSize: 2, padding: 2, color: '#000', font: { family: SERIF, size: 20 } },
        grid: { drawOnChartArea: false, tickLength: 8, color: '#000' },
        border: { color: '#000', width: 2 },
        afterFit: function (s) { s.height = 38; }
      },
      y: {
        type: 'linear', reverse: true, min: -0.5, max: 18.24, offset: false,
        afterBuildTicks: function (s) { s.ticks = goTerms.map(function (t, i) { return { value: i }; }); },
        ticks: { autoSkip: false, padding: 4, color: '#000', font: { family: SERIF, size: 21 },
          callback: function (v) { return goTerms[v]; } },
        grid: { display: false },
        border: { color: '#000', width: 2 },
        afterFit: function (s) { s.width = 398; }
      }
    }
  },
  plugins: [panelFExtras]
});
</script>
</body>
</html>
